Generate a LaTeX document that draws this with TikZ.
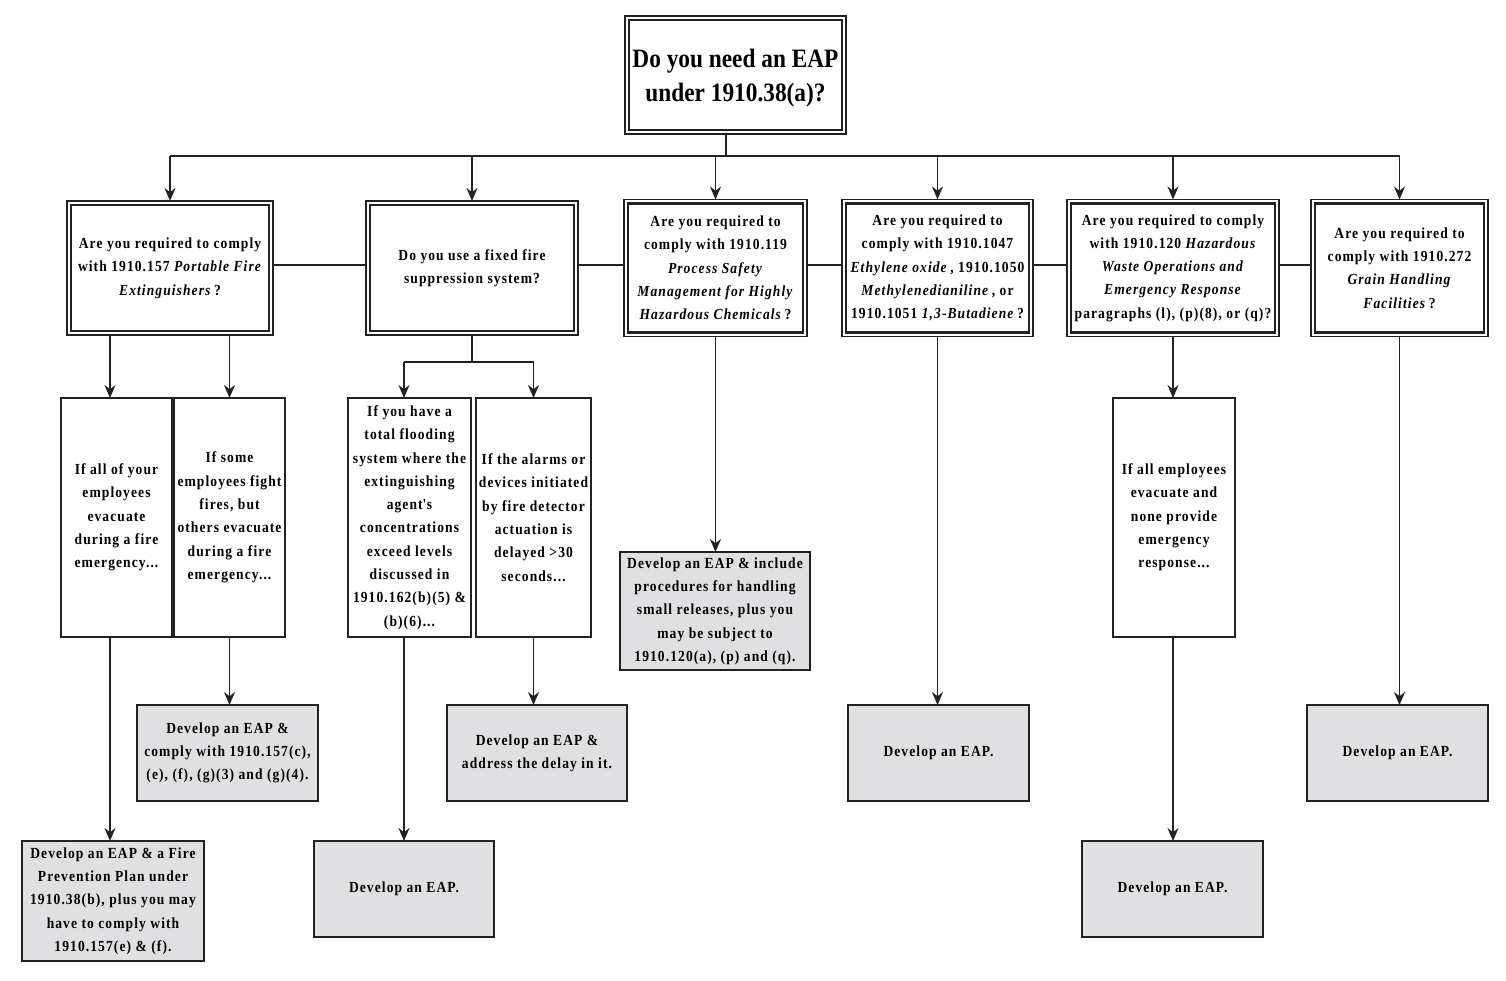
\documentclass[tikz,border=0pt]{standalone}
\usepackage{fontspec}
\setmainfont{Liberation Serif}[FakeStretch=0.88, LetterSpace=7]
\usetikzlibrary{arrows.meta}
\definecolor{ink}{HTML}{222222}
\definecolor{boxgray}{HTML}{E0E0E2}
\newcommand\bodyfont{\fontsize{15.4}{23.3}\selectfont\bfseries}
\tikzset{
 base/.style={align=center, inner sep=0pt, outer sep=0pt, font=\bodyfont, text=black},
 dbl/.style={base, draw=ink, line width=1.5pt, fill=white},
 sgl/.style={base, draw=ink, line width=1.6pt, fill=white},
 res/.style={base, draw=ink, line width=1.8pt, fill=boxgray},
 ln/.style={draw=ink, line width=1.8pt},
 arr/.style={ln, -{Stealth[length=13pt,width=11pt]}},
}
\begin{document}
\begin{tikzpicture}[x=1pt,y=-1pt]
\useasboundingbox (0,0) rectangle (1506,980);
% top
\node[dbl, minimum width=221pt, minimum height=118pt] (T) at (735.5,75) {};
\node[base, font={\fontsize{26.5}{34}\selectfont\bfseries\addfontfeature{LetterSpace=0}}] (Tt) at (735.5,78)
 {Do you need an EAP\\under 1910.38(a)?};
% second row
\node[dbl, minimum width=206pt, minimum height=134pt] (B1) at (170,268)
 {Are you required to comply\\with 1910.157 \textit{Portable Fire}\\\textit{Extinguishers}\,?};
\node[dbl, minimum width=212pt, minimum height=134pt] (B2) at (472,268)
 {Do you use a fixed fire\\suppression system?};
\node[dbl, minimum width=183pt, minimum height=137pt] (B3) at (715.5,268)
 {Are you required to\\comply with 1910.119\\\textit{Process Safety}\\\textit{Management for Highly}\\\textit{Hazardous Chemicals}\,?};
\node[dbl, minimum width=191pt, minimum height=137pt] (B4) at (937.5,268)
 {Are you required to\\comply with 1910.1047\\\textit{Ethylene oxide}\,, 1910.1050\\\textit{Methylenedianiline}\,, or\\1910.1051 \textit{1,3-Butadiene}\,?};
\node[dbl, minimum width=212pt, minimum height=137pt] (B5) at (1173,268)
 {Are you required to comply\\with 1910.120 \textit{Hazardous}\\\textit{Waste Operations and}\\\textit{Emergency Response}\\paragraphs (l), (p)(8), or (q)?};
\node[dbl, minimum width=177pt, minimum height=137pt] (B6) at (1399.5,268)
 {Are you required to\\comply with 1910.272\\\textit{Grain Handling}\\\textit{Facilities}\,?};
\foreach \n in {T,B1,B2,B3,B4,B5,B6}
 \draw[draw=ink, line width=2.6pt] ([xshift=4pt,yshift=-4pt]\n.north west) rectangle ([xshift=-4pt,yshift=4pt]\n.south east);
% third row
\node[sgl, minimum width=111pt, minimum height=239pt] (C1) at (116.5,517.5)
 {If all of your\\employees\\evacuate\\during a fire\\emergency...};
\node[sgl, minimum width=111pt, minimum height=239pt] (C2) at (229.5,517.5)
 {If some\\employees fight\\fires, but\\others evacuate\\during a fire\\emergency...};
\node[sgl, minimum width=123pt, minimum height=239pt] (C3) at (409.5,517.5)
 {If you have a\\total flooding\\system where the\\extinguishing\\agent\textquotesingle s\\concentrations\\exceed levels\\discussed in\\1910.162(b)(5) \&\\(b)(6)...};
\node[sgl, minimum width=115pt, minimum height=239pt] (C4) at (533.5,517.5)
 {If the alarms or\\devices initiated\\by fire detector\\actuation is\\delayed >30\\seconds...};
\node[sgl, minimum width=122pt, minimum height=239pt] (C5) at (1174,517.5)
 {If all employees\\evacuate and\\none provide\\emergency\\response...};
% results
\node[res, minimum width=190pt, minimum height=118pt] (R3) at (715,611)
 {Develop an EAP \& include\\procedures for handling\\small releases, plus you\\may be subject to\\1910.120(a), (p) and (q).};
\node[res, minimum width=182pt, minimum height=120pt] (R1) at (113,901)
 {Develop an EAP \& a Fire\\Prevention Plan under\\1910.38(b), plus you may\\have to comply with\\1910.157(e) \& (f).};
\node[res, minimum width=181pt, minimum height=96pt] (R2) at (227.5,753)
 {Develop an EAP \&\\comply with 1910.157(c),\\(e), (f), (g)(3) and (g)(4).};
\node[res, minimum width=180pt, minimum height=96pt] (R4) at (404,889)
 {Develop an EAP.};
\node[res, minimum width=180pt, minimum height=96pt] (R5) at (537,753)
 {Develop an EAP \&\\address the delay in it.};
\node[res, minimum width=181pt, minimum height=96pt] (R6) at (938.5,753)
 {Develop an EAP.};
\node[res, minimum width=181pt, minimum height=96pt] (R7) at (1172.5,889)
 {Develop an EAP.};
\node[res, minimum width=181pt, minimum height=96pt] (R8) at (1397.5,753)
 {Develop an EAP.};
% connectors
\coordinate (tstem) at ([xshift=-9.5pt]T.south);
\coordinate (busL) at (170,156);
\coordinate (busR) at (1400,156);
\draw[ln] (tstem) -- (tstem |- busL);
\draw[ln] (busL) -- (busR);
\foreach \b in {B1,B2,B3,B4,B5,B6}
 \draw[arr] (\b.north |- busL) -- (\b.north);
\draw[ln] ([yshift=3pt]B1.east) -- ([yshift=3pt]B2.west);
\draw[ln] ([yshift=3pt]B2.east) -- ([yshift=3pt]B3.west);
\draw[ln] ([yshift=3pt]B3.east) -- ([yshift=3pt]B4.west);
\draw[ln] ([yshift=3pt]B4.east) -- ([yshift=3pt]B5.west);
\draw[ln] ([yshift=3pt]B5.east) -- ([yshift=3pt]B6.west);
% B1 branch
\coordinate (k1) at ([xshift=-6.5pt]C1.north);
\draw[arr] (k1 |- B1.south) -- (k1);
\draw[arr] (C2.north |- B1.south) -- (C2.north);
\draw[arr] (k1 |- C1.south) -- (k1 |- R1.north);
\draw[arr] (C2.south) -- (C2.south |- R2.north);
% B2 branch
\coordinate (sp) at (472,362);
\coordinate (k3) at (404,362);
\coordinate (k4) at (C4.north |- sp);
\draw[ln] (B2.south) -- (B2.south |- sp);
\draw[ln] (k3) -- (k4);
\draw[arr] (k3) -- (k3 |- C3.north);
\draw[arr] (k4) -- (C4.north);
\draw[arr] (k3 |- C3.south) -- (k3 |- R4.north);
\draw[arr] (C4.south) -- (C4.south |- R5.north);
% others
\draw[arr] (B3.south) -- (B3.south |- R3.north);
\draw[arr] (B4.south) -- (B4.south |- R6.north);
\draw[arr] (B5.south) -- (B5.south |- C5.north);
\draw[arr] (B5.south |- C5.south) -- (B5.south |- R7.north);
\draw[arr] (B6.south) -- (B6.south |- R8.north);
\end{tikzpicture}
\end{document}
